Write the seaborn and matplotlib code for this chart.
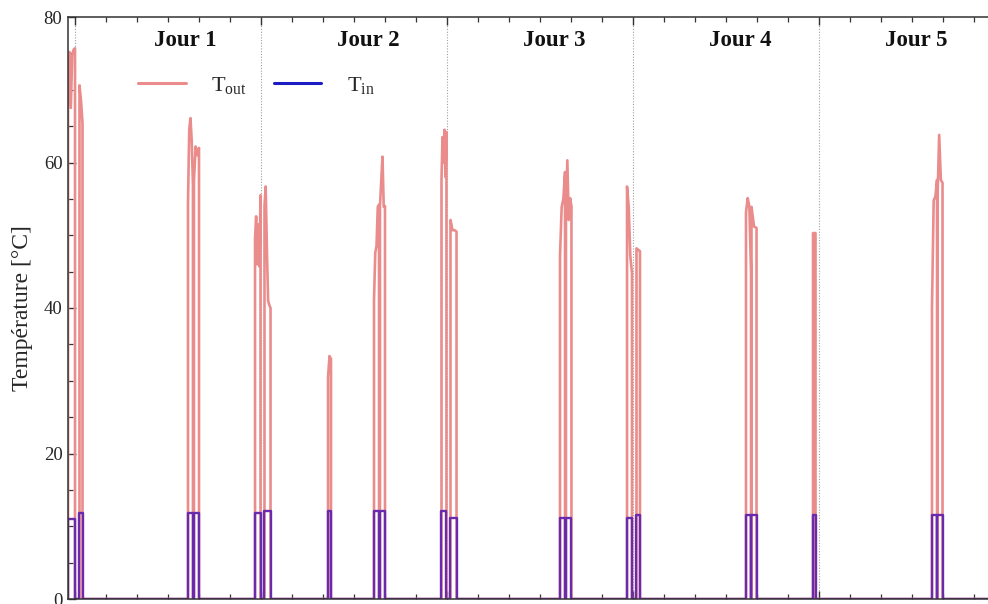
import numpy as np
import pandas as pd
import matplotlib
matplotlib.use("Agg")
import matplotlib.pyplot as plt
from matplotlib.lines import Line2D
from matplotlib.ticker import MultipleLocator, NullFormatter
import seaborn as sns

# ---------------- data (hours, °C) ----------------
pulse_start = [-0.90, 0.58, 14.58, 15.35, 23.23, 24.45, 32.65, 38.58, 39.35, 47.29,
               48.45, 62.58, 63.35, 71.23, 72.45, 86.58, 87.29, 95.23, 110.58, 111.29]
pulse_end = [0.00, 0.97, 15.22, 16.00, 23.94, 25.23, 33.03, 39.23, 40.00, 47.93,
             49.23, 63.23, 64.06, 71.87, 72.90, 87.23, 87.94, 95.55, 111.23, 111.94]
tin_level = [11.0, 11.8, 11.8, 11.8, 11.8, 12.1, 12.1, 12.1, 12.1, 12.1,
             11.2, 11.2, 11.2, 11.2, 11.6, 11.6, 11.6, 11.6, 11.6, 11.6]
tout_profiles = [
    [72.0, 75.2, 67.5, 74.8, 75.5, 75.7],
    [70.6, 68.5, 65.4],
    [54.4, 64.5, 66.1, 63.0, 56.9],
    [57.5, 62.2, 61.0, 62.0],
    [49.5, 52.6, 46.0, 51.5, 45.7, 55.5],
    [54.0, 56.7, 48.0, 41.0, 40.4, 40.0],
    [30.5, 33.4, 33.0],
    [41.0, 47.6, 48.5, 53.9, 54.2],
    [54.0, 57.4, 60.8, 53.9, 54.0],
    [57.6, 63.5, 60.0, 64.5, 58.0, 64.2],
    [52.1, 50.7, 50.7, 50.5],
    [47.1, 53.9, 55.0, 58.7],
    [52.1, 60.3, 52.1, 55.1, 54.0],
    [56.7, 54.0, 47.1, 44.8],
    [48.2, 47.8],
    [53.1, 55.1, 54.0, 44.8],
    [53.9, 51.2, 51.0],
    [50.3, 50.3],
    [40.0, 54.8, 55.3, 57.6],
    [55.0, 63.8, 57.6, 57.2],
]
day_labels = ["Jour 1", "Jour 2", "Jour 3", "Jour 4", "Jour 5"]
day_label_pos = [14.2, 37.8, 61.9, 85.9, 108.6]
day_bounds = [0, 24, 48, 72, 96]
x_range = (-0.903, 120.5)

# ---------------- build series ----------------
rows = []
order = 0
def add(t, v, s):
    global order
    rows.append((t, v, s, order))
    order += 1

add(x_range[0] - 1, 0.0, "Tout")
for s0, s1, prof in zip(pulse_start, pulse_end, tout_profiles):
    add(s0, 0.0, "Tout")
    for t, v in zip(np.linspace(s0, s1, len(prof)), prof):
        add(t, v, "Tout")
    add(s1, 0.0, "Tout")
add(x_range[1] + 1, 0.0, "Tout")

add(x_range[0] - 1, 0.0, "Tin")
for s0, s1, lv in zip(pulse_start, pulse_end, tin_level):
    add(s0, 0.0, "Tin")
    add(s0, lv, "Tin")
    add(s1, lv, "Tin")
    add(s1, 0.0, "Tin")
add(x_range[1] + 1, 0.0, "Tin")

df = pd.DataFrame(rows, columns=["time", "temp", "series", "order"])

# ---------------- style ----------------
sns.set_style("white")
plt.rcParams["font.family"] = ["Liberation Serif", "DejaVu Serif"]
plt.rcParams["mathtext.fontset"] = "custom"
plt.rcParams["mathtext.rm"] = "Liberation Serif"
plt.rcParams["mathtext.it"] = "Liberation Serif:italic"

fig = plt.figure(figsize=(9.88, 6.04), dpi=100)
W, H = 988, 604
left_px, top_px, bottom_px = 68, 17, 599
px_per_h = 186 / 24
width_px = (x_range[1] - x_range[0]) * px_per_h
ax = fig.add_axes([left_px / W, (H - bottom_px) / H, width_px / W, (bottom_px - top_px) / H])

pink = "#ea8c8c"
purple = "#6a2aac"
blue = "#1c1cc4"

sns.lineplot(data=df[df.series == "Tout"], x="time", y="temp", sort=False,
             estimator=None, color=pink, lw=1.9, ax=ax, legend=False)
sns.lineplot(data=df[df.series == "Tin"], x="time", y="temp", sort=False,
             estimator=None, color=purple, lw=1.7, ax=ax, legend=False)

for b in day_bounds:
    ax.axvline(b, color="#a0a0a0", lw=0.8, ls=(0, (1, 1.5)), zorder=0)

for lab, pos in zip(day_labels, day_label_pos):
    ax.text(pos, 76.8, lab, ha="center", va="center", fontsize=16.5,
            fontweight="bold", color="#111111")

ax.set_xlim(*x_range)
ax.set_ylim(0, 80)
ax.xaxis.set_major_locator(MultipleLocator(24))
ax.xaxis.set_minor_locator(MultipleLocator(4))
ax.xaxis.set_major_formatter(NullFormatter())
ax.yaxis.set_major_locator(MultipleLocator(20))
ax.yaxis.set_minor_locator(MultipleLocator(5))
ax.tick_params(axis="both", which="both", direction="in", top=True, bottom=True,
               left=True, right=False, color="#333333")
ax.tick_params(axis="x", which="major", length=6, width=1)
ax.tick_params(axis="x", which="minor", length=3.5, width=0.9)
ax.tick_params(axis="y", which="major", length=6, width=1, labelsize=13.5, pad=4)
ax.tick_params(axis="y", which="minor", length=3.5, width=0.9)
for sp in ax.spines.values():
    sp.set_color("#333333")
    sp.set_linewidth(1.1)
ax.set_xlabel("")
ax.set_ylabel("Température [°C]", fontsize=17, labelpad=8)

handles = [Line2D([], [], color=pink, lw=2.2), Line2D([], [], color=blue, lw=2.2)]
ax.legend(handles, [r"T$_{\mathrm{out}}$", r"T$_{\mathrm{in}}$"], loc="upper left",
          bbox_to_anchor=(50 / width_px, 0.935), ncol=2, frameon=False, fontsize=16,
          handlelength=2.15, columnspacing=1.2, handletextpad=1.15)

fig.savefig("out.png", dpi=100)
